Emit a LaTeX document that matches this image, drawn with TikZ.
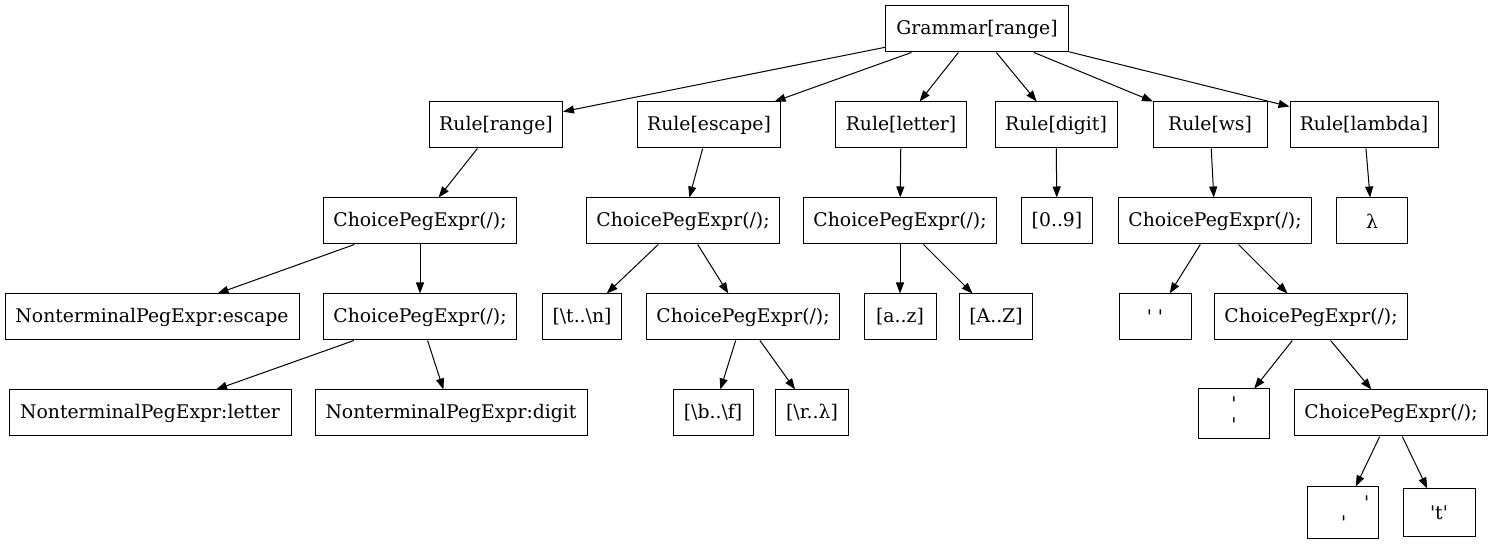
\documentclass[tikz,border=0pt]{standalone}
\usepackage{fontspec}
\setmainfont{DejaVu Serif}
\usetikzlibrary{arrows.meta}
\newcommand{\q}{\textquotesingle}
\begin{document}
\begin{tikzpicture}[x=0.5pt,y=-0.5pt,
  box/.style={draw, line width=0.5pt, rectangle, inner sep=0pt, minimum height=23pt,
    font=\fontsize{9.4}{11}\selectfont},
  edge/.style={line width=0.5pt, -{Triangle[length=5.5pt,width=4pt]}}]
\useasboundingbox (0,0) rectangle (1493,544);
% root
\node[box, minimum width=91.5pt] (g) at (977,29) {Grammar[range]};
% row 1
\node[box, minimum width=66.5pt] (rr) at (496,125) {Rule[range]};
\node[box, minimum width=71.5pt] (re) at (709,125) {Rule[escape]};
\node[box, minimum width=65.5pt] (rl) at (901,125) {Rule[letter]};
\node[box, minimum width=61pt] (rd) at (1056,125) {Rule[digit]};
\node[box, minimum width=57pt] (rw) at (1210,125) {Rule[ws]};
\node[box, minimum width=74pt] (rla) at (1364,125) {Rule[lambda]};
% row 2
\node[box, minimum width=96.5pt] (c1) at (420,221) {ChoicePegExpr(/);};
\node[box, minimum width=96.5pt] (c2) at (683,221) {ChoicePegExpr(/);};
\node[box, minimum width=96.5pt] (c3) at (900,221) {ChoicePegExpr(/);};
\node[box, minimum width=35.5pt] (d09) at (1057,221) {[0..9]};
\node[box, minimum width=96.5pt] (c4) at (1215,221) {ChoicePegExpr(/);};
\node[box, minimum width=35.5pt] (lam) at (1372,221) {λ};
% row 3
\node[box, minimum width=147pt] (ntesc) at (152,317) {NonterminalPegExpr:escape};
\node[box, minimum width=96.5pt] (c1b) at (420,317) {ChoicePegExpr(/);};
\node[box, minimum width=39.5pt] (tn) at (582,317) {[\textbackslash t..\textbackslash n]};
\node[box, minimum width=96.5pt] (c2b) at (743,317) {ChoicePegExpr(/);};
\node[box, minimum width=36pt] (az) at (900,317) {[a..z]};
\node[box, minimum width=36.5pt] (AZ) at (996,317) {[A..Z]};
\node[box, minimum width=36pt] (sp) at (1155,317) {\q\ \q};
\node[box, minimum width=96.5pt] (c4b) at (1311,317) {ChoicePegExpr(/);};
% row 4
\node[box, minimum width=141pt] (ntlet) at (150,413) {NonterminalPegExpr:letter};
\node[box, minimum width=136pt] (ntdig) at (451,413) {NonterminalPegExpr:digit};
\node[box, minimum width=40pt] (bf) at (713,413) {[\textbackslash b..\textbackslash f]};
\node[box, minimum width=36.5pt] (rl2) at (812,413) {[\textbackslash r..λ]};
\node[box, minimum width=35.5pt, minimum height=25pt, align=center,
  font=\fontsize{9.4}{10.5}\selectfont] (nl) at (1234,414) {\q\\\q};
\node[box, minimum width=96.5pt] (c4c) at (1391,413) {ChoicePegExpr(/);};
% row 5
\node[box, minimum width=35.5pt, minimum height=26pt] (tab) at (1343,513)
  {\makebox[0pt][l]{\hspace*{-1pt}\raisebox{-3pt}{\q}\hspace{9pt}\raisebox{7pt}{\q}}};
\node[box, minimum width=36pt, minimum height=24pt] (tt) at (1439,513) {\q t\q};
% edges
\foreach \a/\b in {g/rr, g/re, g/rl, g/rd, g/rw, g/rla,
  rr/c1, re/c2, rl/c3, rd/d09, rw/c4, rla/lam,
  c1/ntesc, c1/c1b, c2/tn, c2/c2b, c3/az, c3/AZ, c4/sp, c4/c4b,
  c1b/ntlet, c1b/ntdig, c2b/bf, c2b/rl2, c4b/nl, c4b/c4c,
  c4c/tab, c4c/tt}
  \draw[edge] (\a) -- (\b);
\end{tikzpicture}
\end{document}
